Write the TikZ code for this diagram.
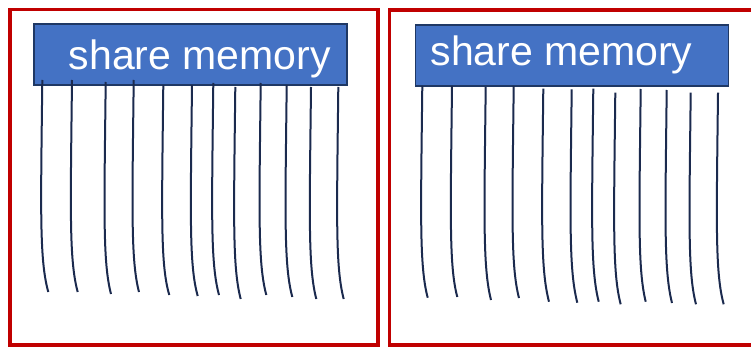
\documentclass[tikz,border=0pt]{standalone}
\usepackage{fontspec}
\setmainfont{Liberation Sans}
\definecolor{boxblue}{HTML}{4472C4}
\definecolor{boxedge}{HTML}{1F3864}
\definecolor{framered}{HTML}{C00000}
\definecolor{threadcol}{HTML}{1B2A4E}
\begin{document}
\begin{tikzpicture}[x=1pt,y=-1pt,
  frameline/.style={draw=framered, line width=3.8pt},
  membox/.style={draw=boxedge, fill=boxblue, line width=1.8pt, minimum width=313pt, minimum height=61pt, inner sep=0pt, anchor=north west},
  memtext/.style={text=white, font=\fontsize{41}{49}\selectfont, inner sep=0pt, anchor=base west},
  threadline/.style={draw=threadcol, line width=2pt}]
\useasboundingbox (0,0) rectangle (751,347);
\fill[white] (0,0) rectangle (751,347);
% frames
\draw[frameline] (10,9.5) rectangle (378,345);
\draw[frameline] (756,10.2) -- (389.5,10.2) -- (389.5,345) -- (756,345);
% memory boxes
\node[membox] (m1) at (33,23) {};
\node[memtext] (t1) at (68.6,69.5) {share memory};
\node[membox] (m2) at (414.5,24) {};
\node[memtext] (t2) at (430.3,65.5) {share memory};
% threads
\foreach \xa/\ya/\xb/\yb in {42.3/80/48.3/292, 72/80/77.7/292, 105.7/82/111/294, 133.7/80/139/292, 163.3/85/169.3/295, 192/85/197.7/296, 213.3/83/219/295, 235.3/87/240.7/299, 260.7/83/266.3/295, 286.7/85/292.3/297, 311/87/316.3/299, 338.3/87/343.7/299,
422.3/86/427.7/297.7, 452/86/457.3/297, 485.7/87/491/300, 513.7/86/519/298, 543.3/88.7/549/301.7, 571.7/89.3/577.3/302.7, 593.3/88.7/598.7/301.7, 615.3/92.7/620.7/304.3, 640.7/89/645.7/301.7, 666.7/90/672/303, 690.7/92.7/696/304.3, 718/92.7/723.7/304.3}
  \draw[threadline] (\xa,\ya) .. controls (\xa-1.5,\ya+130) and (\xa-3,\ya+180) .. (\xb,\yb);
\end{tikzpicture}
\end{document}
